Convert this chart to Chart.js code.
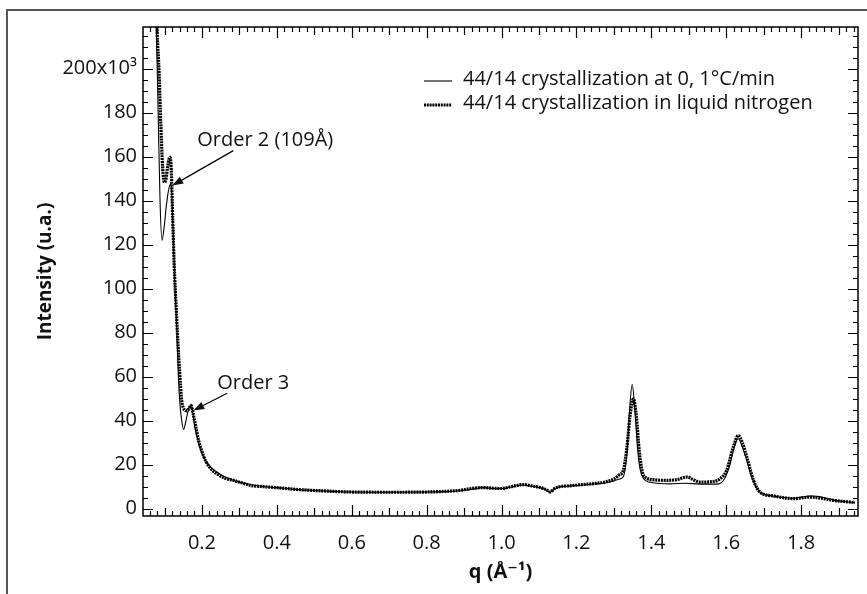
<!DOCTYPE html>
<html lang="en">
<head>
    <meta charset="UTF-8">
    <title>SAXS intensity 44/14</title>
    <style>
        * { margin: 0; padding: 0; box-sizing: border-box; }
        body { background: #fff; width: 867px; height: 594px; overflow: hidden; }
        canvas { display: block; }
    </style>
    <script src="https://cdn.jsdelivr.net/npm/chart.js"></script>
</head>
<body>
    <canvas id="saxsChart" width="867" height="594"></canvas>

    <script>
        // q values (Å-1) and intensities (x10^3)
        const qSlow = [0.072, 0.078, 0.083, 0.088, 0.093, 0.099, 0.105, 0.111, 0.117, 0.120,
            0.124, 0.128, 0.133, 0.137, 0.141, 0.146, 0.151, 0.156, 0.161, 0.166,
            0.171, 0.176, 0.181, 0.187, 0.195, 0.204, 0.220, 0.240, 0.260, 0.284,
            0.31, 0.329, 0.36, 0.40, 0.45, 0.50, 0.55, 0.60, 0.70, 0.80,
            0.85, 0.89, 0.92, 0.95, 0.98, 1.00, 1.03, 1.058, 1.08, 1.10,
            1.12, 1.13, 1.14, 1.152, 1.18, 1.218, 1.25, 1.28, 1.30, 1.315,
            1.325, 1.335, 1.342, 1.349, 1.356, 1.363, 1.370, 1.380, 1.397, 1.42,
            1.45, 1.49, 1.53, 1.56, 1.58, 1.595, 1.61, 1.62, 1.632, 1.643,
            1.655, 1.665, 1.675, 1.69, 1.71, 1.73, 1.76, 1.78, 1.80, 1.825,
            1.85, 1.87, 1.89, 1.92, 1.944];
        const iSlow = [260, 219, 180, 140, 122, 128, 138, 145, 147.7, 140,
            120, 100, 80, 60, 48, 40, 36, 39, 43, 46,
            47, 43, 37, 32.6, 27.5, 23.5, 19.5, 16.7, 14.5, 12.9,
            11.7, 11, 10.2, 9.6, 8.8, 8.3, 7.9, 7.6, 7.5, 7.6,
            7.8, 8.2, 8.8, 9.6, 9.2, 9.1, 10, 10.8, 10.2, 9.7,
            8.5, 7.6, 8.8, 9.8, 10.3, 10.8, 11.3, 11.8, 12.6, 13.5,
            14.5, 25, 45, 56.5, 45, 28, 18, 13.5, 12, 11.5,
            11.3, 11.6, 11.2, 11.2, 11.3, 13.5, 20, 27, 31.8, 28,
            22, 16, 11.5, 7.6, 6.2, 5.7, 5, 4.8, 5.3, 5.8,
            5.5, 4.6, 3.8, 3.2, 2.8];

        const qLN2 = [0.075, 0.080, 0.085, 0.090, 0.095, 0.0996, 0.104, 0.108, 0.112, 0.115,
            0.118, 0.122, 0.126, 0.130, 0.135, 0.140, 0.146, 0.150, 0.155, 0.160,
            0.165, 0.171, 0.176, 0.182, 0.191, 0.200, 0.209, 0.222, 0.240, 0.260,
            0.284, 0.31, 0.329, 0.36, 0.40, 0.45, 0.50, 0.55, 0.60, 0.70,
            0.80, 0.85, 0.89, 0.92, 0.95, 0.98, 1.00, 1.03, 1.058, 1.08,
            1.10, 1.12, 1.13, 1.14, 1.152, 1.18, 1.218, 1.25, 1.28, 1.30,
            1.315, 1.325, 1.335, 1.343, 1.352, 1.360, 1.368, 1.379, 1.405, 1.441,
            1.47, 1.495, 1.515, 1.53, 1.566, 1.584, 1.601, 1.619, 1.632, 1.643,
            1.655, 1.673, 1.69, 1.726, 1.78, 1.824, 1.86, 1.886, 1.944];
        const iLN2 = [260, 219, 200, 175, 155, 148.4, 150, 155, 159, 159.8,
            154, 131, 110, 95, 78, 63, 49, 46, 44.7, 44.5,
            45.5, 47, 43.5, 38.7, 31, 26, 22, 18.5, 15.9, 14,
            12.9, 11.6, 10.6, 10.1, 9.6, 8.8, 8.3, 7.9, 7.6, 7.5,
            7.6, 7.9, 8.4, 9.2, 9.6, 9.3, 9.2, 10.2, 11, 10.4,
            9.8, 8.6, 7.6, 9, 9.9, 10.4, 11, 11.5, 12.3, 13.5,
            15.5, 17.4, 28, 42, 50, 42, 26, 15.2, 13.2, 12.9,
            13.3, 14.4, 13, 12.1, 12.4, 13.7, 17.4, 28, 33.3, 30,
            23.5, 12.9, 7.6, 5.8, 4.6, 5.3, 4.6, 3.8, 2.8];

        const seriesNames = ['44/14 crystallization at 0, 1°C/min', '44/14 crystallization in liquid nitrogen'];
        const xTickVals = [0.2, 0.4, 0.6, 0.8, 1.0, 1.2, 1.4, 1.6, 1.8];
        const yTickVals = [0, 20, 40, 60, 80, 100, 120, 140, 160, 180, 200];
        const yTickLabels = ['0', '20', '40', '60', '80', '100', '120', '140', '160', '180', '200x10³'];

        const FONT = '"Open Sans", "DejaVu Sans", sans-serif';

        function pts(xs, ys) {
            return xs.map((x, i) => ({ x: x, y: ys[i] }));
        }

        // box, inward ticks, legend, annotations and outer frame
        const decorations = {
            id: 'decorations',
            afterDraw(chart) {
                const c = chart.ctx;
                const a = chart.chartArea;
                const xs = chart.scales.x;
                const ys = chart.scales.y;

                c.save();
                // outer frame (only left and top edges are visible)
                c.strokeStyle = '#555';
                c.lineWidth = 2;
                c.beginPath();
                c.moveTo(7, 594);
                c.lineTo(7, 10);
                c.lineTo(867, 10);
                c.stroke();

                // plot box
                c.strokeStyle = '#000';
                c.lineWidth = 1.5;
                c.strokeRect(a.left, a.top, a.right - a.left, a.bottom - a.top);

                // x ticks, every 0.02, medium at 0.1, long at 0.2
                c.lineWidth = 1.2;
                c.beginPath();
                for (let k = 3; k <= 97; k++) {
                    const v = k * 0.02;
                    if (v < xs.min || v > xs.max) continue;
                    const px = Math.round(xs.getPixelForValue(v)) + 0.5;
                    const len = k % 10 === 0 ? 11 : (k % 5 === 0 ? 8 : 5);
                    c.moveTo(px, a.bottom); c.lineTo(px, a.bottom - len);
                    c.moveTo(px, a.top); c.lineTo(px, a.top + len);
                }
                // y ticks, every 5, long at 20
                for (let k = 0; k <= 43; k++) {
                    const v = k * 5;
                    if (v < ys.min || v > ys.max) continue;
                    const py = Math.round(ys.getPixelForValue(v)) + 0.5;
                    const len = k % 4 === 0 ? 10 : 5;
                    c.moveTo(a.left, py); c.lineTo(a.left + len, py);
                    c.moveTo(a.right, py); c.lineTo(a.right - len, py);
                }
                c.stroke();

                // legend
                c.font = '20px ' + FONT;
                c.fillStyle = '#111';
                c.textBaseline = 'middle';
                c.textAlign = 'left';
                const legY = [79, 103];
                chart.data.datasets.forEach((ds, i) => {
                    c.save();
                    c.strokeStyle = '#000';
                    c.lineWidth = ds.borderWidth;
                    c.setLineDash(ds.borderDash || []);
                    c.beginPath();
                    c.moveTo(424, legY[i] + 2);
                    c.lineTo(452, legY[i] + 2);
                    c.stroke();
                    c.restore();
                    c.fillText(ds.label, 463, legY[i]);
                });

                // annotations with arrows
                function arrow(x1, y1, x2, y2) {
                    const ang = Math.atan2(y2 - y1, x2 - x1);
                    const hl = 11, hw = 4;
                    c.lineWidth = 1.2;
                    c.beginPath();
                    c.moveTo(x1, y1);
                    c.lineTo(x2 - hl * Math.cos(ang), y2 - hl * Math.sin(ang));
                    c.stroke();
                    c.beginPath();
                    c.moveTo(x2, y2);
                    c.lineTo(x2 - hl * Math.cos(ang) + hw * Math.sin(ang), y2 - hl * Math.sin(ang) - hw * Math.cos(ang));
                    c.lineTo(x2 - hl * Math.cos(ang) - hw * Math.sin(ang), y2 - hl * Math.sin(ang) + hw * Math.cos(ang));
                    c.closePath();
                    c.fill();
                }
                c.fillStyle = '#111';
                c.strokeStyle = '#000';
                c.fillText('Order 2 (109Å)', xs.getPixelForValue(0.1875), ys.getPixelForValue(167.4));
                arrow(xs.getPixelForValue(0.2836), ys.getPixelForValue(162.8),
                      xs.getPixelForValue(0.1207), ys.getPixelForValue(146.9));
                c.fillText('Order 3', xs.getPixelForValue(0.2408), ys.getPixelForValue(57));
                arrow(xs.getPixelForValue(0.2675), ys.getPixelForValue(52.5),
                      xs.getPixelForValue(0.1768), ys.getPixelForValue(44.7));
                c.restore();
            }
        };

        const ctx = document.getElementById('saxsChart').getContext('2d');
        const saxsChart = new Chart(ctx, {
            type: 'line',
            data: {
                datasets: [
                    {
                        label: seriesNames[0],
                        data: pts(qSlow, iSlow),
                        borderColor: '#000',
                        borderWidth: 1.1,
                        pointRadius: 0,
                        cubicInterpolationMode: 'monotone'
                    },
                    {
                        label: seriesNames[1],
                        data: pts(qLN2, iLN2),
                        borderColor: '#000',
                        borderWidth: 3.2,
                        borderDash: [2, 0.8],
                        pointRadius: 0,
                        cubicInterpolationMode: 'monotone'
                    }
                ]
            },
            options: {
                responsive: false,
                animation: false,
                devicePixelRatio: 1,
                layout: { padding: { left: 0, top: 27, right: 9, bottom: 0 } },
                plugins: {
                    legend: { display: false },
                    tooltip: { enabled: false }
                },
                scales: {
                    x: {
                        type: 'linear',
                        min: 0.0425,
                        max: 1.952,
                        grid: { display: false, drawTicks: false },
                        border: { display: false },
                        afterBuildTicks: s => { s.ticks = xTickVals.map(v => ({ value: v })); },
                        afterFit: s => { s.height = 78; },
                        ticks: {
                            padding: 15,
                            color: '#111',
                            font: { family: FONT, size: 20 },
                            maxRotation: 0,
                            callback: v => v.toFixed(1)
                        },
                        title: {
                            display: true,
                            text: 'q (Å⁻¹)',
                            color: '#111',
                            font: { family: FONT, size: 20, weight: 'bold' },
                            padding: { top: 10, bottom: 10 }
                        }
                    },
                    y: {
                        min: -3.3,
                        max: 219,
                        grid: { display: false, drawTicks: false },
                        border: { display: false },
                        afterBuildTicks: s => { s.ticks = yTickVals.map(v => ({ value: v })); },
                        afterFit: s => { s.width = 143; },
                        ticks: {
                            padding: 6,
                            color: '#111',
                            font: { family: FONT, size: 20 },
                            callback: (v) => yTickLabels[yTickVals.indexOf(v)]
                        },
                        title: {
                            display: true,
                            text: 'Intensity (u.a.)',
                            color: '#111',
                            font: { family: FONT, size: 19, weight: 'bold' },
                            padding: { top: 34, bottom: 34 }
                        }
                    }
                }
            },
            plugins: [decorations]
        });
    </script>
</body>
</html>
